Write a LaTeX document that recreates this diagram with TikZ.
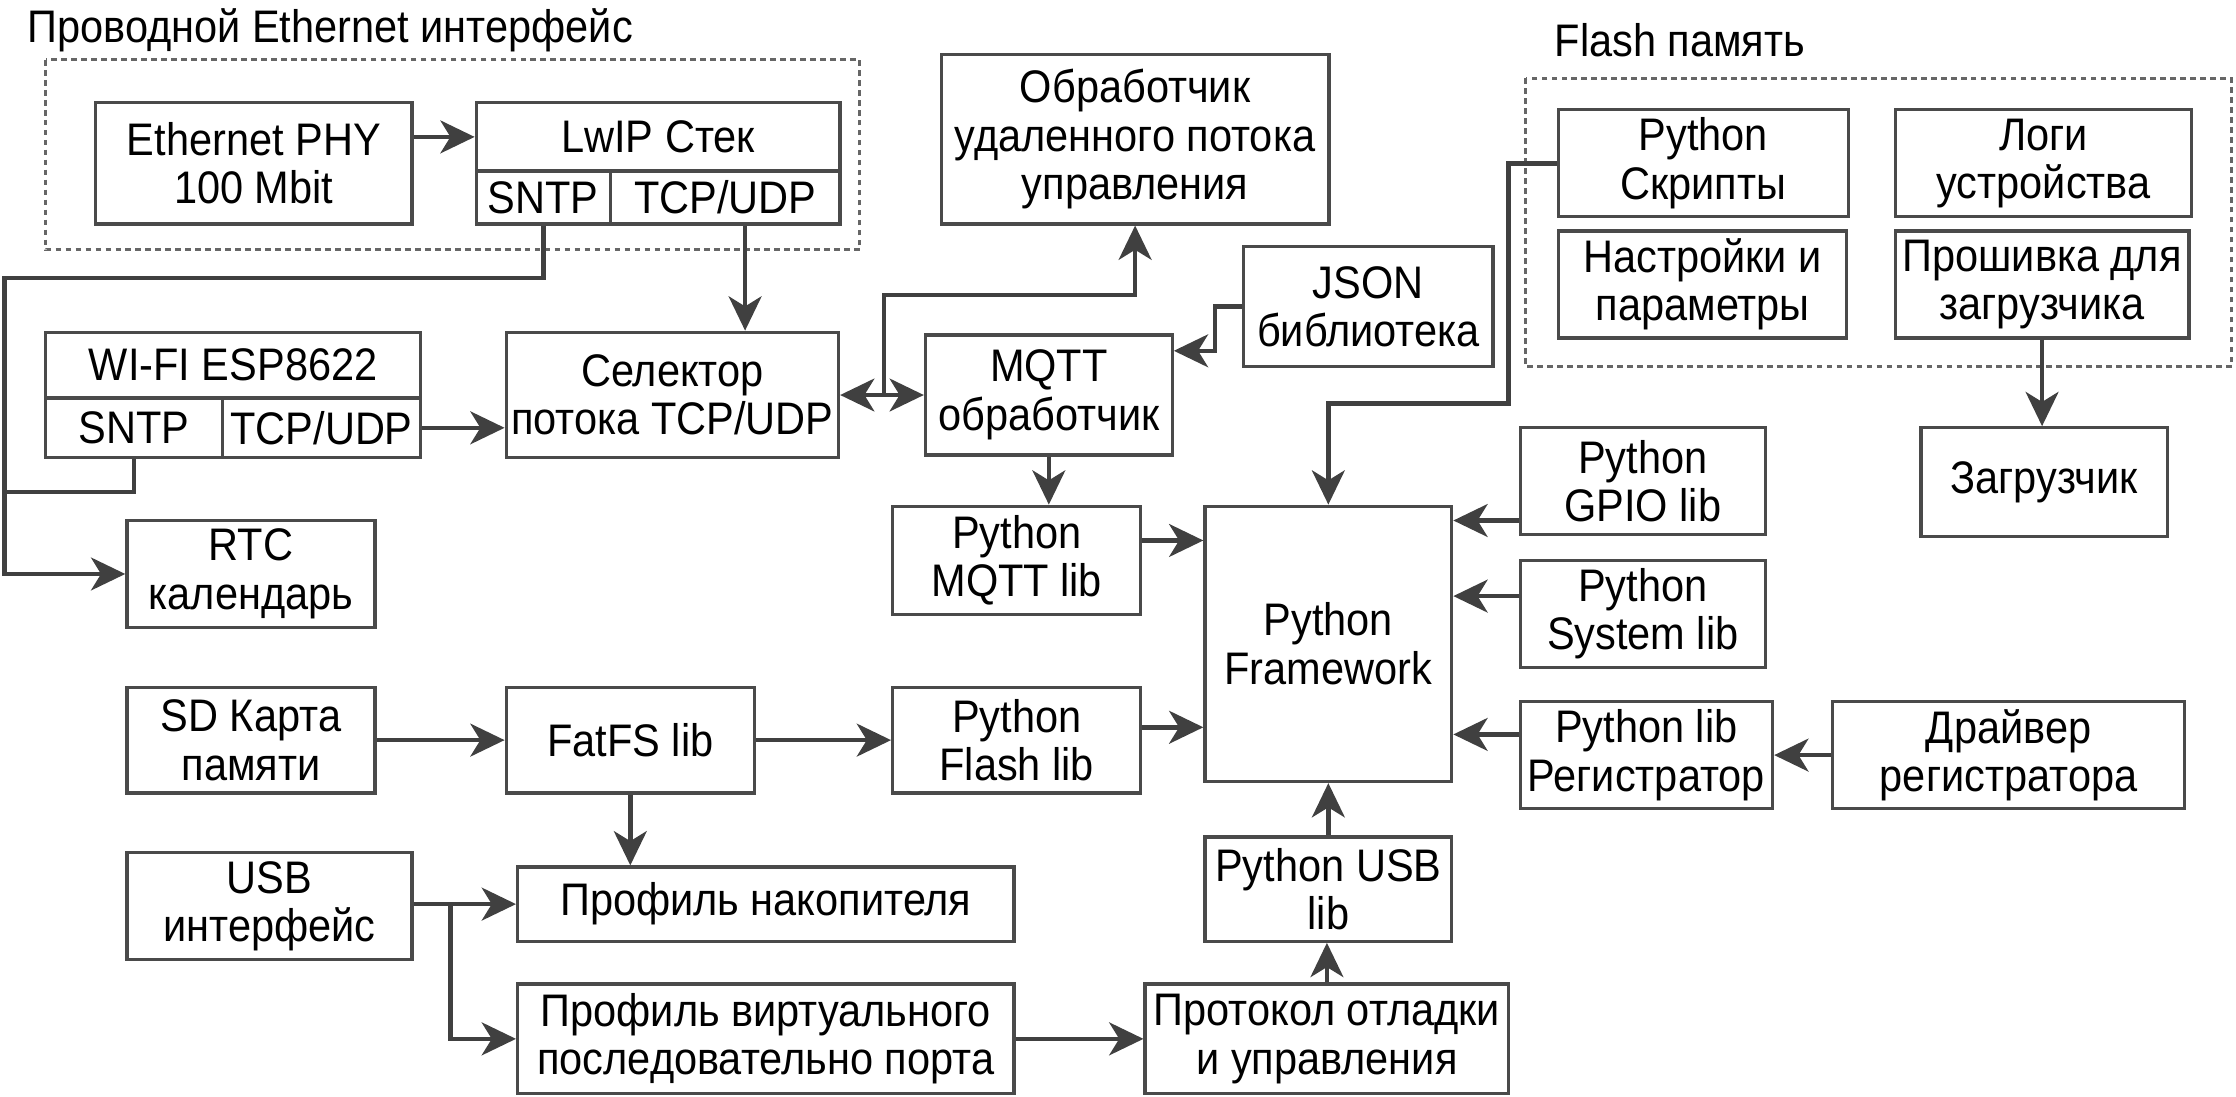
\documentclass[tikz,border=0pt]{standalone}
\usepackage{fontspec}
\setmainfont[FakeStretch=0.91]{Liberation Sans}
\usetikzlibrary{arrows.meta}
\definecolor{ln}{HTML}{404040}
\definecolor{bd}{HTML}{4A4A4A}
\newcommand\fsz{\fontsize{32}{34}\selectfont}
\tikzset{
 box/.style={draw=bd, line width=2.3pt, fill=white, align=center, inner sep=0pt, font=\fsz},
 tip/.tip={Stealth[length=24pt,width=23pt,inset=7pt]},
 arr/.style={draw=ln, line width=3.2pt, -tip},
 dbl/.style={draw=ln, line width=3.2pt, tip-tip},
 wire/.style={draw=ln, line width=3.2pt},
 grp/.style={draw=ln!80, line width=2pt, dash pattern=on 4pt off 3pt},
}
\newcommand\bx[6]{\node[box, minimum width={(#4-#2)*1pt}, minimum height={(#5-#3)*1pt}] (#1) at ({(#2+#4)/2},{(#3+#5)/2}) {#6};}
\begin{document}
\begin{tikzpicture}[x=1pt,y=-1pt]
\useasboundingbox (0,0) rectangle (1568,769);
% groups
\draw[grp] (32,42) rectangle (603,175);
\draw[grp] (1070,55) rectangle (1565,257);
\node[anchor=west, font=\fsz, inner sep=0pt] (t1) at (19,21) {Проводной Ethernet интерфейс};
\node[anchor=west, font=\fsz, inner sep=0pt] (t2) at (1090,28) {Flash память};
% boxes
\bx{phy}{67}{72}{289}{157}{Ethernet PHY\\100 Mbit}
\bx{lwip}{334}{72}{589}{120}{LwIP Стек}
\bx{lsntp}{334}{120}{428}{157}{SNTP}
\bx{ltcp}{428}{120}{589}{157}{TCP/UDP}
\bx{rem}{660}{38}{932}{157}{Обработчик\\удаленного потока\\управления}
\bx{scr}{1093}{77}{1296}{152}{Python\\Скрипты}
\bx{log}{1329}{77}{1537}{152}{Логи\\устройства}
\bx{set}{1093}{162}{1295}{237}{Настройки и\\параметры}
\bx{fw}{1329}{162}{1535}{237}{Прошивка для\\загрузчика}
\bx{boot}{1347}{300}{1520}{376}{Загрузчик}
\bx{json}{872}{173}{1047}{257}{JSON\\библиотека}
\bx{mqtt}{649}{235}{822}{319}{MQTT\\обработчик}
\bx{sel}{355}{233}{588}{321}{Селектор\\потока TCP/UDP}
\bx{wifi}{32}{233}{295}{279}{WI-FI ESP8622}
\bx{wsntp}{32}{279}{156}{321}{SNTP}
\bx{wtcp}{156}{279}{295}{321}{TCP/UDP}
\bx{rtc}{89}{365}{263}{440}{RTC\\календарь}
\bx{pmqtt}{626}{355}{800}{431}{Python\\MQTT lib}
\bx{pfw}{845}{355}{1018}{548}{Python\\Framework}
\bx{pflash}{626}{482}{800}{556}{Python\\Flash lib}
\bx{gpio}{1066}{300}{1238}{375}{Python\\GPIO lib}
\bx{sys}{1066}{393}{1238}{468}{Python\\System lib}
\bx{reg}{1066}{492}{1243}{567}{Python lib\\Регистратор}
\bx{drv}{1285}{492}{1532}{567}{Драйвер\\регистратора}
\bx{sd}{89}{482}{263}{556}{SD Карта\\памяти}
\bx{fat}{355}{482}{529}{556}{FatFS lib}
\bx{usb}{89}{598}{289}{673}{USB\\интерфейс}
\bx{msc}{363}{608}{711}{660}{Профиль накопителя}
\bx{vcp}{363}{690}{711}{767}{Профиль виртуального\\последовательно порта}
\bx{proto}{803}{690}{1058}{767}{Протокол отладки\\и управления}
\bx{pusb}{845}{587}{1018}{660}{Python USB\\lib}
% connectors
\coordinate (bus) at (3,195);
\coordinate (wj) at (3,345);
\coordinate (sj) at (620,277);
\coordinate (uj) at (316,634);
\draw[arr] (phy.east |- lwip.west) -- (lwip.west);
\draw[arr] ([xshift=14pt]ltcp.south) -- ([xshift=14pt]ltcp.south |- sel.north);
\draw[arr] (wtcp.east) -- (wtcp.east -| sel.west);
\draw[arr] (lsntp.south) |- (bus) -- (bus |- rtc.west) -- (rtc.west);
\draw[wire] (wsntp.south) |- (wj);
\draw[arr] (sj) |- (rem.south |- 0,207) -- (rem.south);
\draw[dbl] (sel.east) -- (mqtt.west);
\draw[arr] (json.west) -| (852,246) -- (mqtt.east |- 0,246);
\draw[arr] (mqtt.south) -- (mqtt.south |- pmqtt.north);
\draw[arr] (pmqtt.east |- 0,379) -- (pfw.west |- 0,379);
\draw[arr] (pflash.east |- 0,510) -- (pfw.west |- 0,510);
\draw[arr] (scr.west) -| (1058,283) -| (pfw.north);
\draw[arr] (gpio.west |- 0,365) -- (pfw.east |- 0,365);
\draw[arr] (sys.west |- 0,418) -- (pfw.east |- 0,418);
\draw[arr] (reg.west |- 0,515) -- (pfw.east |- 0,515);
\draw[arr] (drv.west) -- (reg.east);
\draw[arr] (fw.south) -- (fw.south |- boot.north);
\draw[arr] (sd.east) -- (fat.west);
\draw[arr] (fat.east) -- (pflash.west);
\draw[arr] (fat.south) -- (fat.south |- msc.north);
\draw[arr] (usb.east |- msc.west) -- (msc.west);
\draw[arr] (uj) |- (vcp.west);
\draw[arr] (vcp.east) -- (proto.west);
\draw[arr] (proto.north) -- (proto.north |- pusb.south);
\draw[arr] (pusb.north) -- (pusb.north |- pfw.south);
\end{tikzpicture}
\end{document}
